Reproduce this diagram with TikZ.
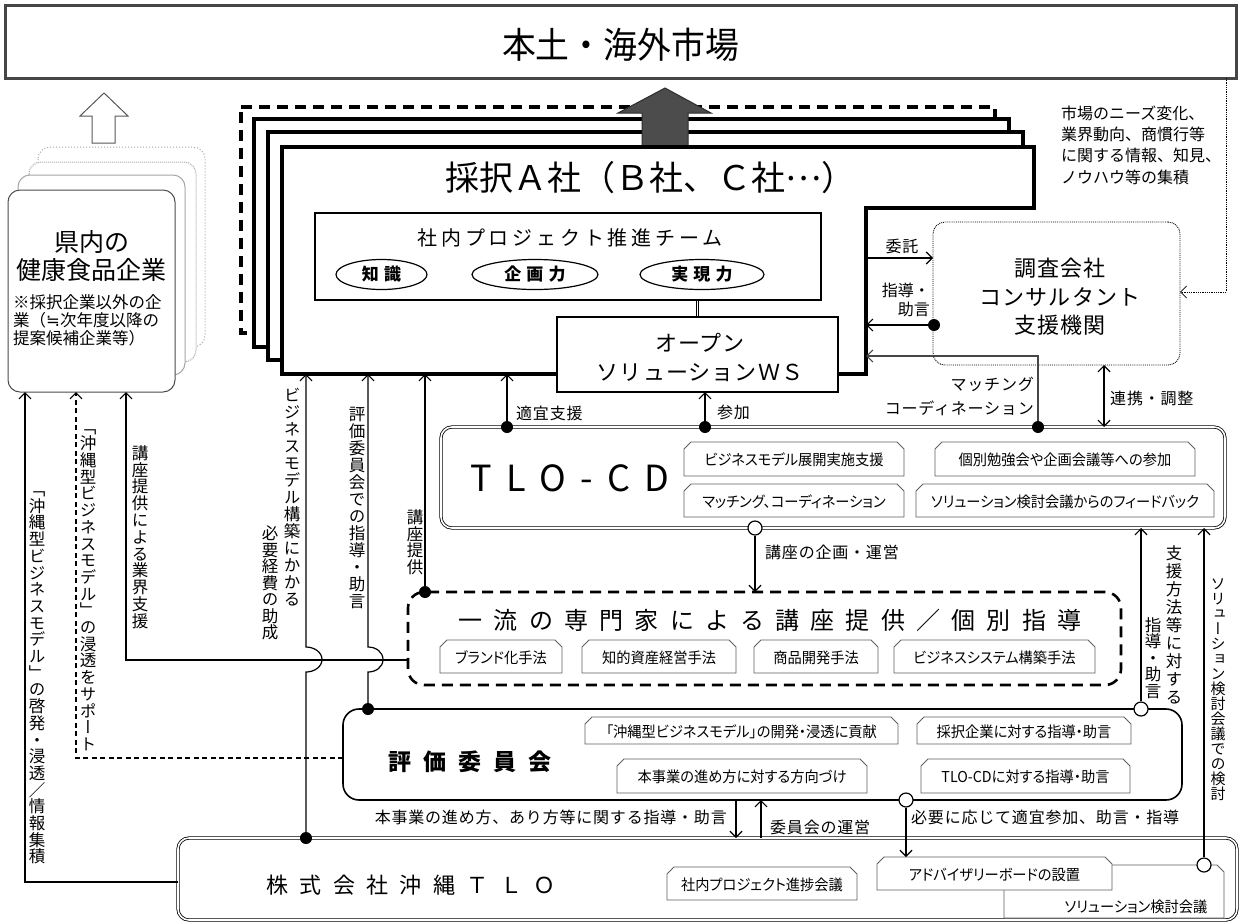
\documentclass[tikz,border=0pt]{standalone}
\usepackage{graphicx}
\usepackage{fontspec}
\setmainfont{Noto Sans CJK JP}
\newfontfamily\tatefont[RawFeature=+vert]{Noto Sans CJK JP}
\newfontfamily\paltfont[RawFeature=+palt]{Noto Sans CJK JP}
\newfontfamily\symfont{DejaVu Sans}
\usetikzlibrary{arrows.meta,shapes.geometric}

\newcommand\fsz[1]{\fontsize{#1}{#1}\selectfont}
\newcommand\lsp[1]{\addfontfeatures{LetterSpace=#1}}
\newcommand\lblf{\fontsize{16}{24}\selectfont\addfontfeatures{LetterSpace=5}}
\newcommand\cnd[1]{\scalebox{0.95}[1]{\paltfont\fontsize{15}{15}\selectfont #1}}
\newcommand\snip[6]{%
  \draw[snipline] (#2,#5) -- (#2,#3+7) -- (#2+7,#3) -- (#4-7,#3) -- (#4,#3+7) -- (#4,#5) -- cycle;
  \node[txt] (#1) at ({(#2+#4)/2},{(#3+#5)/2+1}) {\cnd{#6}};}
\ExplSyntaxOn
\NewDocumentCommand\vtext{mmm}{%
  \vbox{\tatefont\fontsize{#1}{#2}\selectfont\baselineskip=#2\lineskiplimit=-100pt\lineskip=0pt
    \tl_map_inline:nn {#3}{\hbox_to_wd:nn{1em}{\hss ##1\hss}}}}
\ExplSyntaxOff

\begin{document}
\begin{tikzpicture}[x=1pt,y=-1pt,
  txt/.style={inner sep=0pt},
  arr/.style={line width=1.2pt,-{Straight Barb[length=6pt,width=12pt]}},
  dotb/.style={circle,fill=black,inner sep=0pt,minimum size=12pt},
  doto/.style={circle,draw=black,fill=white,line width=1.2pt,inner sep=0pt,minimum size=14pt},
  stkback/.style={draw=gray!70,fill=white,line width=1pt,rounded corners=12pt},
  thickbox/.style={draw=black,fill=white,line width=3.2pt,line join=miter},
  snipline/.style={draw=gray!75!black,fill=white,line width=0.8pt},
  dbl/.style={draw=black,double=white,double distance=1.6pt,line width=0.8pt,rounded corners=11pt},
]
\useasboundingbox (0,0) rectangle (1241,922);
\fill[white] (0,0) rectangle (1241,922);

% ---------- market ----------
\node[draw=gray!55!black,line width=3pt,minimum width=1231pt,minimum height=73pt,inner sep=0pt] (market) at (620.5,41.5) {};
\node[txt] (markett) at (620.5,45) {\fsz{36}\scalebox{0.94}[1]{本土・海外市場}};

% ---------- left hollow arrow ----------
\draw[draw=gray!70!black,fill=white,line width=1pt] (92,143) -- (115,143) -- (115,116) -- (128,116) -- (104,93) -- (80,116) -- (92,116) -- cycle;

% ---------- left stack ----------
\draw[stkback,dotted] (38,147) rectangle (205,347);
\draw[stkback,densely dotted] (29,162) rectangle (196,362);
\draw[stkback] (18,175) rectangle (185,375);
\node[stkback,draw=gray!60!black,minimum width=167pt,minimum height=202pt] (kennai) at (91.5,291) {};
\node[txt,align=center,font=\fontsize{25}{28}\selectfont] (kennait) at (91.5,256) {県内の\\健康食品企業};
\node[txt,align=left,anchor=west,font=\fontsize{16.5}{18}\selectfont] (kennain) at (13,320) {※採択企業以外の企\\業（{\symfont ≒}次年度以降の\\提案候補企業等）};

% ---------- main stack ----------
\draw[thickbox,dash pattern=on 11pt off 7pt] (241,107) -- (995,107) -- (995,168) -- (827,168) -- (827,333) -- (241,333) -- cycle;
\draw[thickbox] (254,119) -- (1009,119) -- (1009,180) -- (840,180) -- (840,347) -- (254,347) -- cycle;
\draw[thickbox] (268,132) -- (1023,132) -- (1023,193) -- (854,193) -- (854,360) -- (268,360) -- cycle;
\draw[fill=gray!60!black,draw=gray!35!black,line width=1pt] (642,147) -- (642,113) -- (618,113) -- (665,88) -- (711,113) -- (688,113) -- (688,147) -- cycle;
\draw[thickbox] (282,147) -- (1034,147) -- (1034,208) -- (866,208) -- (866,374) -- (282,374) -- cycle;
\node[txt] (saitaku) at (650,178) {\fsz{34}採択Ａ社（Ｂ社、Ｃ社\raisebox{0.3em}{…}）};

\node[draw,fill=white,line width=1.2pt,minimum width=506pt,minimum height=87pt,inner sep=0pt] (team) at (568,256.5) {};
\node[txt] (teamt) at (570,238) {\fsz{20}\lsp{19}社内プロジェクト推進チーム};
\node[ellipse,draw,line width=1.2pt,minimum width=91pt,minimum height=30pt,inner sep=0pt] (chishiki) at (381.5,274.5) {\bfseries\fsz{17}\lsp{30}知識};
\node[ellipse,draw,line width=1.2pt,minimum width=126pt,minimum height=30pt,inner sep=0pt] (kikaku) at (535,274.5) {\bfseries\fsz{17}\lsp{30}企画力};
\node[ellipse,draw,line width=1.2pt,minimum width=124pt,minimum height=30pt,inner sep=0pt] (jitsugen) at (702,274.5) {\bfseries\fsz{17}\lsp{30}実現力};

\node[draw,fill=white,line width=1.2pt,minimum width=281pt,minimum height=75pt,inner sep=0pt] (ws) at (697.5,354.5) {};
\node[txt,align=center,font=\fontsize{22}{29}\selectfont\addfontfeatures{LetterSpace=5}] (wst) at (700,357) {オープン\\ソリューションＷＳ};
\draw[double,double distance=1.8pt,line width=0.8pt] (team.south -| ws.north) -- (ws.north);

% ---------- consultant ----------
\node[draw,densely dotted,line width=0.9pt,rounded corners=12pt,minimum width=247pt,minimum height=143pt,fill=white] (cons) at (1056.5,293.5) {};
\node[txt,align=center,font=\fontsize{22}{28.5}\selectfont\addfontfeatures{LetterSpace=5}] (const) at (1060,297) {調査会社\\コンサルタント\\支援機関};
\node[txt,anchor=west,align=left,font=\fontsize{16}{21.3}\selectfont] (note) at (1061,145) {市場のニーズ変化、\\業界動向、商慣行等\\に関する情報、知見、\\ノウハウ等の集積};
\coordinate (fb1) at (1226,78); \coordinate (fb2) at (1226,292); \coordinate (fb3) at (1180,292);
\draw[densely dotted,line width=0.8pt,-{Straight Barb[length=6pt,width=12pt]}] (fb1) -- (fb2) -- (fb3);

% ---------- TLO-CD ----------
\node[dbl,fill=white,minimum width=784pt,minimum height=101pt,inner sep=0pt] (tlocd) at (833,477.5) {};
\node[txt] (tlocdt) at (570,478) {\fsz{36}\lsp{40}TLO-CD};
\snip{s1}{684}{442}{904}{476}{ビジネスモデル展開実施支援}
\snip{s2}{935}{442}{1195}{476}{個別勉強会や企画会議等への参加}
\snip{s3}{684}{484}{904}{517}{マッチング、コーディネーション}
\snip{s4}{916}{484}{1214}{517}{ソリューション検討会議からのフィードバック}

% ---------- lecture ----------
\node[draw,line width=2.6pt,dash pattern=on 11pt off 7pt,rounded corners=16pt,minimum width=713pt,minimum height=93pt,fill=white,inner sep=0pt] (lect) at (764.5,638.5) {};
\node[txt] (lectt) at (770,620) {\fsz{24}\lsp{47}一流の専門家による講座提供／個別指導};
\snip{l1}{440}{640}{562}{673}{ブランド化手法}
\snip{l2}{582}{640}{736}{673}{知的資産経営手法}
\snip{l3}{754}{640}{878}{673}{商品開発手法}
\snip{l4}{894}{640}{1095}{673}{ビジネスシステム構築手法}

% ---------- evaluation ----------
\node[draw,line width=1.6pt,rounded corners=16pt,minimum width=839pt,minimum height=91pt,fill=white,inner sep=0pt] (eval) at (762.5,754.5) {};
\node[txt] (evalt) at (470,762) {\bfseries\fsz{23}\lsp{52}評価委員会};
\snip{e1}{585}{717}{898}{744}{「沖縄型ビジネスモデル」の開発・浸透に貢献}
\snip{e2}{917}{717}{1131}{744}{採択企業に対する指導・助言}
\snip{e3}{617}{759}{867}{793}{本事業の進め方に対する方向づけ}
\snip{e4}{921}{759}{1130}{793}{TLO-CDに対する指導・助言}

% ---------- TLO ----------
\node[dbl,fill=white,minimum width=1059pt,minimum height=82pt,inner sep=0pt] (tlo) at (707.5,879) {};
\node[txt] (tlot) at (411,885) {\fsz{22}\lsp{52}株式会社沖縄ＴＬＯ};
\snip{t1}{667}{867}{857}{900}{社内プロジェクト進捗会議}
\draw[snipline] (1004,918) -- (1004,872) -- (1011,865) -- (1217,865) -- (1224,872) -- (1224,918) -- cycle;
\node[txt] (t3) at (1136,907) {\cnd{ソリューション検討会議}};
\snip{t2}{877}{857}{1112}{890}{アドバイザリーボードの設置}

% ---------- connectors: notch side ----------
\coordinate (itaku1) at (866,258); \coordinate (itaku2) at (933,258);
\draw[arr] (itaku1) -- (itaku2);
\node[txt,font=\lblf] (itakul) at (902,246) {委託};
\node[dotb] (dshido) at (934,325) {};
\coordinate (shido2) at (866,325);
\draw[arr] (dshido) -- (shido2);
\node[txt,anchor=east,align=right,font=\fontsize{16}{19}\selectfont] (shidol) at (930,300) {指導・\\助言};
\node[dotb] (dmatch) at (1038,427) {};
\coordinate (m1) at (1038,356); \coordinate (m2) at (866,356);
\draw[arr,draw=gray!55!black] (dmatch) -- (m1) -- (m2);
\node[txt,anchor=east,align=right,font=\lblf] (matchl) at (1034,396) {マッチング\\コーディネーション};
\coordinate (r1) at (1104,365); \coordinate (r2) at (1104,427);
\draw[line width=1.2pt,{Straight Barb[length=6pt,width=12pt]}-{Straight Barb[length=6pt,width=12pt]}] (r1) -- (r2);
\node[txt,anchor=west,font=\lblf] (renkeil) at (1110,398) {連携・調整};

% ---------- connectors into main box ----------
\node[dotb] (dtekigi) at (507,427) {};
\coordinate (tekigi2) at (507,374);
\draw[arr] (dtekigi) -- (tekigi2);
\node[txt,anchor=west,font=\lblf] (tekigil) at (516,413) {適宜支援};
\node[dotb] (dsanka) at (705,427) {};
\coordinate (sanka2) at (705,392);
\draw[arr] (dsanka) -- (sanka2);
\node[txt,anchor=west,font=\lblf] (sankal) at (717,412) {参加};
\node[doto] (okikaku) at (755,528) {};
\coordinate (kikaku2) at (755,592);
\draw[arr] (okikaku) -- (kikaku2);
\node[txt,anchor=west,font=\lblf] (kikakul) at (765,552) {講座の企画・運営};

\node[dotb] (dkoza) at (425,592) {};
\coordinate (koza2) at (425,374);
\draw[arr] (dkoza) -- (koza2);
\node[dotb] (deval) at (368,709) {};
\coordinate (eval2) at (368,374);
\draw[arr] (deval) -- (368,672) .. controls (376,672) and (383,667) .. (383,659.5) .. controls (383,652) and (376,647) .. (368,647) -- (eval2);
\node[dotb] (dtlo) at (306,838) {};
\coordinate (tlo2) at (306,374);
\draw[arr] (dtlo) -- (306,672) .. controls (314,672) and (322,667) .. (322,659.5) .. controls (322,652) and (314,647) .. (306,647) -- (tlo2);

% ---------- connectors to left stack ----------
\coordinate (lk1) at (408,660); \coordinate (lk2) at (126,660); \coordinate (lk3) at (126,392);
\draw[arr] (lk1) -- (lk2) -- (lk3);
\coordinate (ev1) at (343,758); \coordinate (ev2) at (76,758); \coordinate (ev3) at (76,392);
\draw[arr,dash pattern=on 5pt off 3.5pt] (ev1) -- (ev2) -- (ev3);
\coordinate (tl1) at (178,882); \coordinate (tl2) at (25,882); \coordinate (tl3) at (25,392);
\draw[arr] (tl1) -- (tl2) -- (tl3);

% ---------- evaluation / TLO connectors ----------
\coordinate (h1) at (736,800); \coordinate (h2) at (736,838);
\draw[arr] (h1) -- (h2);
\coordinate (u1) at (761,838); \coordinate (u2) at (761,800);
\draw[arr] (u1) -- (u2);
\node[doto] (oadv) at (906,800) {};
\coordinate (adv2) at (906,857);
\draw[arr] (oadv) -- (adv2);
\node[txt,anchor=east,font=\lblf] (hl) at (727,817) {本事業の進め方、あり方等に関する指導・助言};
\node[txt,anchor=west,font=\lblf] (ul) at (770,827) {委員会の運営};
\node[txt,anchor=west,font=\lblf] (advl) at (911,817) {必要に応じて適宜参加、助言・指導};

\node[doto] (osien) at (1141,709) {};
\coordinate (sien2) at (1141,528);
\draw[arr] (osien) -- (sien2);
\node[doto] (osol) at (1204,865) {};
\coordinate (sol2) at (1204,528);
\draw[arr] (osol) -- (sol2);

% ---------- vertical labels ----------
\node[txt] (v1) at (37,678) {\vtext{16.5}{16.7pt}{「沖縄型ビジネスモデル」の啓発・浸透／情報集積}};
\node[txt] (v2) at (88,590) {\vtext{16.5}{16.7pt}{「沖縄型ビジネスモデル」の浸透をサポート}};
\node[txt] (v3) at (140,537) {\vtext{16.5}{16.8pt}{講座提供による業界支援}};
\node[txt] (v4) at (292,497) {\vtext{16.5}{17pt}{ビジネスモデル構築にかかる}};
\node[txt] (v5) at (270,583) {\vtext{16.5}{16.5pt}{必要経費の助成}};
\node[txt] (v6) at (357,508) {\vtext{16.5}{17pt}{評価委員会での指導・助言}};
\node[txt] (v7) at (415,542) {\vtext{16.5}{16.5pt}{講座提供}};
\node[txt] (v8) at (1174,625) {\vtext{16.5}{18pt}{支援方法等に対する}};
\node[txt] (v9) at (1153,658) {\vtext{16.5}{16.5pt}{指導・助言}};
\node[txt] (v10) at (1218,690) {\vtext{15}{15pt}{ソリューション検討会議での検討}};
\end{tikzpicture}
\end{document}
